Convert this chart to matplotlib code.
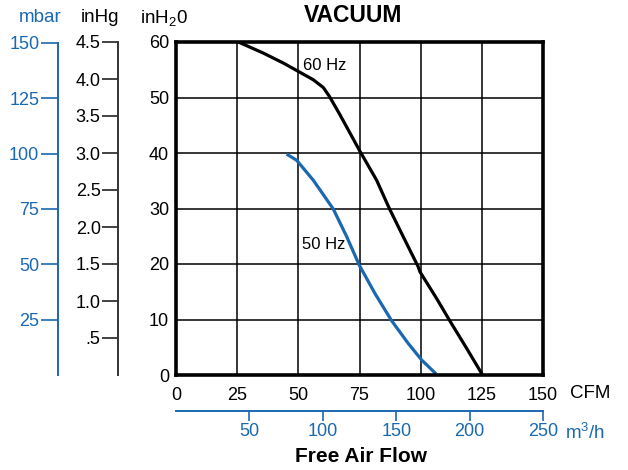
import matplotlib
matplotlib.use('Agg')
import matplotlib.pyplot as plt

plt.rcParams['font.family'] = ['Liberation Sans', 'DejaVu Sans']
plt.rcParams['mathtext.default'] = 'regular'

blue = '#1a68b0'

# curves (CFM, inH2O)
cfm_60 = [25.5, 35.7, 43.9, 50, 56.1, 60.2, 62.7, 67, 71.1, 75.2, 82, 87.2, 92.9, 99, 99.7, 106.5, 112, 118.8, 125.3]
h2o_60 = [60, 58.0, 56.2, 54.7, 53.2, 51.8, 50.2, 46.9, 43.6, 40.3, 35.1, 30.0, 24.9, 19.5, 18.6, 13.8, 9.7, 4.8, 0]
cfm_50 = [45.2, 49.3, 56.1, 64.3, 69.8, 74.9, 81.3, 88.1, 94.9, 100.4, 106.3]
h2o_50 = [39.8, 38.7, 35.1, 29.9, 24.9, 19.8, 14.7, 9.8, 5.7, 2.7, 0.2]

cfm_ticks = [0, 25, 50, 75, 100, 125, 150]
h2o_ticks = [0, 10, 20, 30, 40, 50, 60]
inhg_ticks = [0.5, 1.0, 1.5, 2.0, 2.5, 3.0, 3.5, 4.0, 4.5]
inhg_labels = ['.5', '1.0', '1.5', '2.0', '2.5', '3.0', '3.5', '4.0', '4.5']
mbar_ticks = [25, 50, 75, 100, 125, 150]
m3h_ticks = [50, 100, 150, 200, 250]

fig = plt.figure(figsize=(6.28, 4.70), dpi=100)
pos = [176/628, 95/470, 367/628, 333/470]
ax = fig.add_axes(pos)

ax.plot(cfm_60, h2o_60, color='black', lw=2.3, solid_capstyle='butt', solid_joinstyle='round')
ax.plot(cfm_50, h2o_50, color=blue, lw=2.3, solid_capstyle='butt', solid_joinstyle='round')
ax.text(52, 55.8, '60 Hz', fontsize=12, ha='left', va='center')
ax.text(51.4, 23.5, '50 Hz', fontsize=12, ha='left', va='center')

ax.set_xlim(0, 150)
ax.set_ylim(0, 60)
ax.set_xticks(cfm_ticks)
ax.set_yticks(h2o_ticks)
ax.grid(True, color='black', lw=1.1)
ax.tick_params(length=0, labelsize=13, pad=5)
ax.tick_params(axis='x', pad=9)
for s in ax.spines.values():
    s.set_linewidth(2.6)
ax.set_axisbelow(True)

# inHg axis
ax2 = fig.add_axes(pos, frameon=True)
ax2.patch.set_visible(False)
for k in ['top', 'right', 'bottom']:
    ax2.spines[k].set_visible(False)
ax2.spines['left'].set_position(('axes', -58/367))
ax2.spines['left'].set_color('#333333')
ax2.spines['left'].set_linewidth(1.4)
ax2.set_ylim(0, 4.46)
ax2.spines['left'].set_bounds(0, 4.5)
ax2.set_yticks(inhg_ticks)
ax2.set_yticklabels(inhg_labels)
ax2.set_xticks([])
ax2.tick_params(axis='y', length=11.5, width=1.2, labelsize=13, pad=1, color='#222222')
for t in ax2.yaxis.get_major_ticks():
    t.tick1line.set_clip_on(False)

# mbar axis
ax3 = fig.add_axes(pos, frameon=True)
ax3.patch.set_visible(False)
for k in ['top', 'right', 'bottom']:
    ax3.spines[k].set_visible(False)
ax3.spines['left'].set_position(('axes', -118/367))
ax3.spines['left'].set_color(blue)
ax3.spines['left'].set_linewidth(1.4)
ax3.set_ylim(0, 150.45)
ax3.spines['left'].set_bounds(0, 150)
ax3.set_yticks(mbar_ticks)
ax3.set_xticks([])
ax3.tick_params(axis='y', length=12.5, width=1.2, labelsize=13, pad=1,
                color=blue, labelcolor=blue)

# m3/h axis
ax4 = fig.add_axes(pos, frameon=True)
ax4.patch.set_visible(False)
for k in ['top', 'right', 'left']:
    ax4.spines[k].set_visible(False)
ax4.spines['bottom'].set_position(('axes', -36/333))
ax4.spines['bottom'].set_color(blue)
ax4.spines['bottom'].set_linewidth(1.4)
ax4.set_xlim(0, 250)
ax4.set_xticks(m3h_ticks)
ax4.set_yticks([])
ax4.tick_params(axis='x', length=7, width=1.2, labelsize=13, pad=2,
                color=blue, labelcolor=blue)

# titles and unit labels
fig.text(353/628, 1 - 16/470, 'VACUUM', fontsize=16.5, fontweight='bold', ha='center', va='center')
fig.text(40/628, 1 - 18/470, 'mbar', fontsize=13.5, color=blue, ha='center', va='center')
fig.text(100/628, 1 - 18/470, 'inHg', fontsize=13.5, ha='center', va='center')
fig.text(164/628, 1 - 18/470, 'inH$_2$0', fontsize=13.5, ha='center', va='center')
fig.text(570/628, 1 - 393/470, 'CFM', fontsize=13.5, ha='left', va='center')
fig.text(565/628, 1 - 433/470, 'm$^3$/h', fontsize=13.5, color=blue, ha='left', va='center')
fig.text(361/628, 1 - 456/470, 'Free Air Flow', fontsize=15, fontweight='bold', ha='center', va='center')

fig.savefig('out.png', dpi=100)
